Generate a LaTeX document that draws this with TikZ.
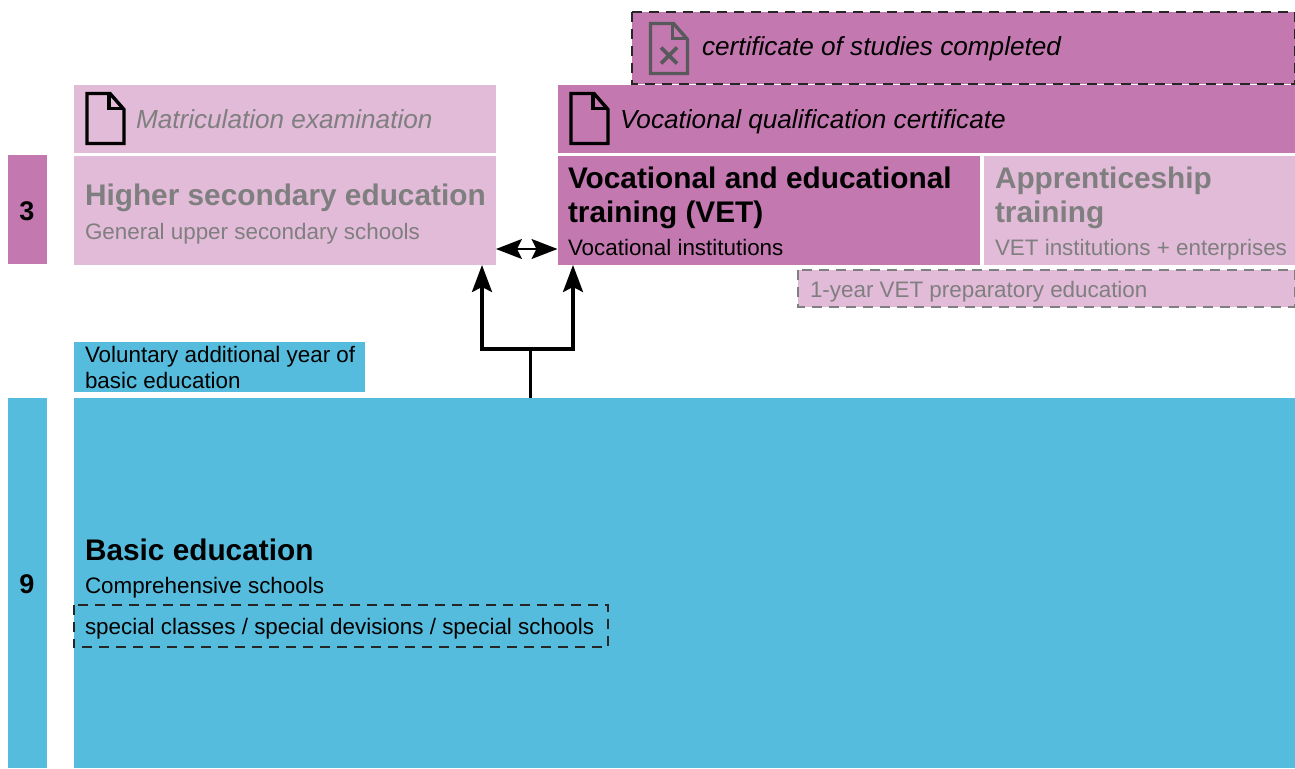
\documentclass[tikz,border=0pt]{standalone}
\usepackage{fontspec}
\setmainfont{Liberation Sans}
\usetikzlibrary{arrows.meta}
\definecolor{mag}{HTML}{C478B0}
\definecolor{lmag}{HTML}{E2BBD9}
\definecolor{blu}{HTML}{55BCDD}
\definecolor{gtxt}{HTML}{7F7F7F}
\definecolor{dgr}{HTML}{58595B}
\newcommand{\px}[1]{\fontsize{#1pt}{#1pt}\selectfont}
\newcommand{\docicon}[3]{% x, y, colour
  \begin{scope}[shift={(#1,#2)}]
    \draw[#3,line width=3.4pt,line join=miter] (0,0) -- (23,0) -- (37,16) -- (37,50) -- (0,50) -- cycle;
    \draw[#3,line width=3.4pt,line join=miter] (22,0) -- (22,15) -- (37,15);
  \end{scope}}
\tikzset{
  x=1pt,y=-1pt,
  lab/.style={anchor=base west,inner sep=0pt,outer sep=0pt},
  fat/.style={line width=3.3pt,draw=black},
  tip/.style={-{Stealth[length=27pt,width=20pt,inset=5pt]}},
  dashblack/.style={draw=black!85,line width=2pt,dash pattern=on 10pt off 7pt},
  dashgrey/.style={draw=gtxt,line width=2pt,dash pattern=on 10pt off 7pt},
}
\newcommand{\panel}[6]{% name,x0,y0,x1,y1,style
  \path[fill=#6] (#2,#3) rectangle (#4,#5);
  \node[inner sep=0pt,outer sep=0pt,minimum width=#4pt-#2pt,minimum height=#5pt-#3pt] (#1) at ({(#2+#4)/2},{(#3+#5)/2}) {};}
\begin{document}
\begin{tikzpicture}
\useasboundingbox (0,0) rectangle (1295,768);
\panel{cert}{632}{12}{1295}{84}{mag}
\draw[dashblack] (632,12) -- (1295,12) (632,12) -- (632,84) -- (1295,84);
\draw[dashblack] (1294.5,12) -- (1294.5,84);
\panel{vq}{557.5}{85}{1295}{153}{mag}
\panel{mat}{73.7}{85}{496}{153}{lmag}
\panel{hs}{73.7}{156}{496}{265}{lmag}
\panel{vet}{557.5}{156}{980}{265}{mag}
\panel{app}{984}{156}{1295}{265}{lmag}
\panel{prep}{797.5}{270}{1295}{307}{lmag}
\draw[dashgrey] (797.5,270) rectangle (1294.5,307);
\panel{vol}{73.7}{342}{365}{392}{blu}
\panel{basic}{73.7}{398}{1295}{768}{blu}
\panel{three}{8}{155}{47}{264}{mag}
\panel{nine}{8}{398}{47}{768}{blu}
\panel{spec}{73.7}{604}{608}{647}{blu}
\draw[dashblack] (73.7,604.5) rectangle (608,647);

\docicon{650.5}{23.5}{dgr}
\draw[dgr,line width=3.6pt] (661,47.5) -- (677,63.5) (677,47.5) -- (661,63.5);
\docicon{87}{93.5}{black}
\docicon{571}{93.5}{black}

\node[lab] (t1) at (702,56) {\px{26.15}\itshape certificate of studies completed};
\node[lab,text=gtxt] (t2) at (136,128) {\px{26.15}\itshape Matriculation examination};
\node[lab] (t3) at (620,128) {\px{26.15}\itshape Vocational qualification certificate};
\node[lab,text=gtxt] (t4) at (85,205) {\px{29.8}\bfseries Higher secondary education};
\node[lab,text=gtxt] (t5) at (85,239) {\px{22.4}General upper secondary schools};
\node[lab] (t6) at (568,188) {\px{29.8}\bfseries Vocational and educational};
\node[lab] (t7) at (568,222) {\px{29.8}\bfseries training (VET)};
\node[lab] (t8) at (568,255) {\px{22.4}Vocational institutions};
\node[lab,text=gtxt] (t9) at (995,188) {\px{29.8}\bfseries Apprenticeship};
\node[lab,text=gtxt] (t10) at (995,222) {\px{29.8}\bfseries training};
\node[lab,text=gtxt] (t11) at (995,255) {\px{22.4}VET institutions + enterprises};
\node[lab,text=gtxt] (t12) at (810,297) {\px{22.4}1-year VET preparatory education};
\node[lab] (t13) at (85,362) {\px{22.4}Voluntary additional year of};
\node[lab] (t14) at (85,388) {\px{22.4}basic education};
\node[lab] (t15) at (85,560) {\px{29.8}\bfseries Basic education};
\node[lab] (t16) at (85,593) {\px{22.4}Comprehensive schools};
\node[lab] (t17) at (85,634) {\px{22.4}special classes / special devisions / special schools};
\node[lab,anchor=base] (t18) at (27,220) {\px{27}\bfseries 3};
\node[lab,anchor=base] (t19) at (27,593) {\px{27}\bfseries 9};

\coordinate (jn) at (530.5,349);
\coordinate (root) at (530.5,398);
\coordinate (al) at (482,265);
\coordinate (ar) at (573,265);
\draw[fat,{Stealth[length=26pt,width=20pt,inset=5pt]}-{Stealth[length=26pt,width=20pt,inset=5pt]},line width=2pt] (hs.east |- 0,249) -- (vet.west |- 0,249);
\draw[fat] (root) -- (jn);
\draw[fat,tip,line join=miter] (jn) -| (al);
\draw[fat,tip,line join=miter] (jn) -| (ar);
\end{tikzpicture}
\end{document}
